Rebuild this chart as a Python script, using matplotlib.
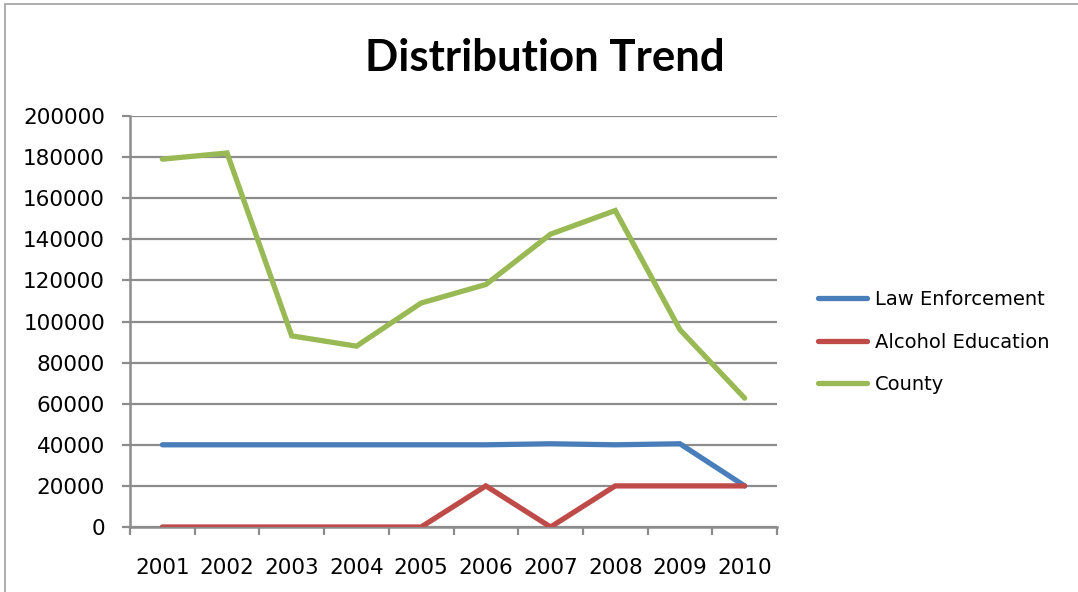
import matplotlib
matplotlib.use("Agg")
import matplotlib.pyplot as plt
from matplotlib.patches import Rectangle
from matplotlib.ticker import MultipleLocator, FixedLocator

years = ["2001", "2002", "2003", "2004", "2005", "2006", "2007", "2008", "2009", "2010"]
law_enforcement = [40000, 40000, 40000, 40000, 40000, 40000, 40500, 40000, 40500, 20000]
alcohol_education = [0, 0, 0, 0, 0, 20000, 0, 20000, 20000, 20000]
county = [179000, 182000, 93000, 88000, 109000, 118000, 142500, 154000, 96000, 62700]

series_names = ["Law Enforcement", "Alcohol Education", "County"]
series_colors = ["#4A7EBB", "#BE4B48", "#98B954"]

W, H = 1078, 592
fig = plt.figure(figsize=(W / 100, H / 100), dpi=100)
fig.patch.set_facecolor("white")

# chart area border (partially visible)
fig.patches.append(Rectangle((5 / W, -0.1), 1.2, 1 - 4 / H + 0.1, transform=fig.transFigure,
                             fill=False, edgecolor="#A0A0A0", linewidth=1.2))

ax = fig.add_axes([130 / W, 1 - 527 / H, (777 - 130) / W, (527 - 116) / H])
x = list(range(len(years)))
for vals, name, col in zip([law_enforcement, alcohol_education, county], series_names, series_colors):
    ax.plot(x, vals, color=col, linewidth=3.8, label=name, solid_capstyle="round",
            solid_joinstyle="miter", zorder=3)

ax.set_xlim(-0.5, 9.5)
ax.set_ylim(0, 200000)
ax.yaxis.set_major_locator(MultipleLocator(20000))
ax.set_xticks(x)
ax.set_xticklabels(years)
ax.xaxis.set_minor_locator(FixedLocator([i - 0.5 for i in range(11)]))

grid_col = "#8C8C8C"
ax.grid(axis="y", color=grid_col, linewidth=1.6, zorder=1)
for s in ["top", "right"]:
    ax.spines[s].set_visible(False)
for s in ["left", "bottom"]:
    ax.spines[s].set_color(grid_col)
    ax.spines[s].set_linewidth(1.8)

ax.tick_params(axis="y", which="major", length=6, width=1.6, color=grid_col, pad=12, labelsize=15.5)
ax.tick_params(axis="x", which="major", length=0, pad=22, labelsize=15.5)
ax.tick_params(axis="x", which="minor", length=6, width=1.6, color=grid_col)

fig.text(545 / W, 1 - 58 / H, "Distribution Trend", ha="center", va="center",
         fontsize=31.5, fontweight="bold", family=["Lato", "DejaVu Sans"])

leg = ax.legend(loc="center left", bbox_to_anchor=(818 / W, 1 - 342 / H),
                bbox_transform=fig.transFigure, frameon=False, fontsize=14,
                handlelength=2.5, handletextpad=0.45, labelspacing=1.2,
                borderpad=0, borderaxespad=0)

fig.savefig("out.png", dpi=100)
